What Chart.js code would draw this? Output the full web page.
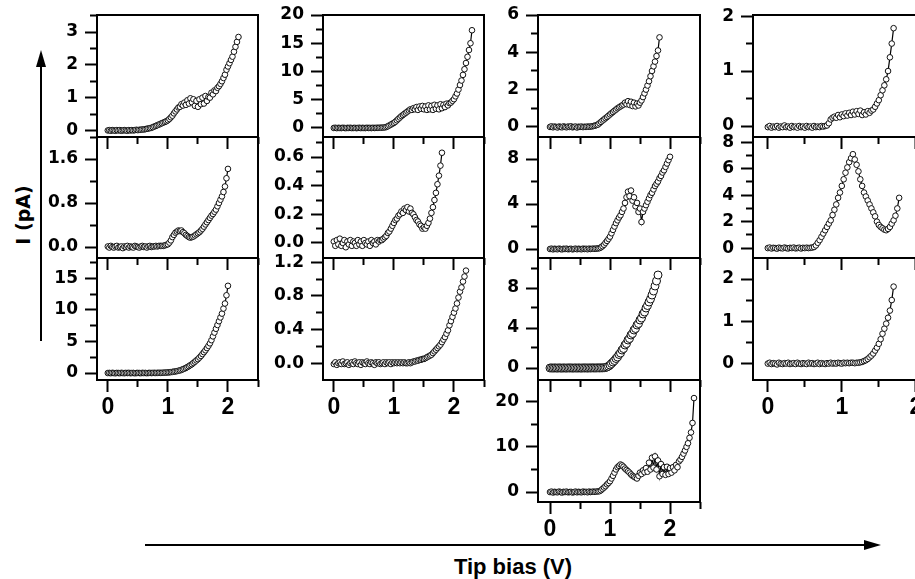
<!DOCTYPE html>
<html>
<head>
<meta charset="utf-8">
<script src="https://cdn.jsdelivr.net/npm/chart.js@4.4.1/dist/chart.umd.min.js"></script>
<style>
  html, body { margin: 0; padding: 0; background: #fff; }
  #fig { position: relative; width: 915px; height: 579px; overflow: hidden; background: #fff; }
  #fig canvas { position: absolute; }
  svg { position: absolute; left: 0; top: 0; }
  .lbl { position: absolute; color: #000; white-space: nowrap; }
  #ylab { font: bold 19px "DejaVu Sans"; left: 23px; top: 215px; transform: translate(-50%, -50%) rotate(-90deg); }
  #xlab { font: bold 22px "Liberation Sans"; left: 513px; top: 567px; transform: translate(-50%, -50%); }
</style>
</head>
<body>
<div id="fig">
  <svg width="915" height="579">
    <line x1="41" y1="66" x2="41" y2="341" stroke="#000" stroke-width="2"/>
    <polygon points="41,50 36,67 46,67" fill="#000"/>
    <line x1="145" y1="545" x2="866" y2="545" stroke="#000" stroke-width="2"/>
    <polygon points="881,545 864,540 864,550" fill="#000"/>
  </svg>
  <div class="lbl" id="ylab">I (pA)</div>
  <div class="lbl" id="xlab">Tip bias (V)</div>
</div>
<script>
// tip bias steps (V), shared by every sweep
const BIAS = [0, 0.025, 0.05, 0.075, 0.1, 0.125, 0.15, 0.175, 0.2, 0.225, 0.25, 0.275, 0.3, 0.325, 0.35, 0.375, 0.4, 0.425, 0.45, 0.475,
  0.5, 0.525, 0.55, 0.575, 0.6, 0.625, 0.65, 0.675, 0.7, 0.725, 0.75, 0.775, 0.8, 0.825, 0.85, 0.875, 0.9, 0.925, 0.95, 0.975,
  1, 1.025, 1.05, 1.075, 1.1, 1.125, 1.15, 1.175, 1.2, 1.225, 1.25, 1.275, 1.3, 1.325, 1.35, 1.375, 1.4, 1.425, 1.45, 1.475,
  1.5, 1.525, 1.55, 1.575, 1.6, 1.625, 1.65, 1.675, 1.7, 1.725, 1.75, 1.775, 1.8, 1.825, 1.85, 1.875, 1.9, 1.925, 1.95, 1.975,
  2, 2.025, 2.05, 2.075, 2.1, 2.125, 2.15, 2.175, 2.2, 2.225, 2.25, 2.275, 2.3, 2.325, 2.35, 2.375, 2.4, 2.425, 2.45, 2.475, 2.5];

// currents (pA), one array per panel
const I_A = [0, 0.01, -0.01, 0.01, 0, -0.01, 0.01, 0, 0.01, -0.01, 0, 0.01, 0, -0.01, 0.01, 0, 0.01, 0, 0.01, 0.02, 0.01,
  0.02, 0.02, 0.03, 0.03, 0.04, 0.05, 0.06, 0.07, 0.08, 0.10, 0.12,
  0.14, 0.16, 0.18, 0.2, 0.22, 0.24, 0.26, 0.28,
  0.31, 0.35, 0.4, 0.45, 0.52, 0.58, 0.64, 0.7,
  0.72, 0.8, 0.76, 0.85, 0.78, 0.92, 0.82, 0.98,
  0.86, 0.95, 0.75, 0.9, 0.72, 0.95, 0.8, 1.0,
  0.82, 1.05, 0.9, 1.02, 1.0, 1.15, 1.1, 1.22,
  1.2, 1.3, 1.35, 1.42, 1.5, 1.6, 1.7, 1.85,
  1.95, 2.05, 2.15, 2.25, 2.4, 2.55, 2.7, 2.85];
const I_B = [0.01, -0.01, 0.02, 0, -0.01, 0.01, 0.02, -0.01, 0, 0.01, -0.02, 0.01, 0, 0.02, -0.01, 0.01, 0, -0.01, 0.02, 0.01,
  0, -0.01, 0.01, 0.02, 0, 0.01, -0.01, 0.01, 0.02, 0, 0.01, 0.01, 0.02, 0.01, 0.02, 0.02,
  0.02, 0.02, 0.03, 0.04,
  0.05, 0.08, 0.12, 0.18, 0.22, 0.26, 0.28, 0.3,
  0.29, 0.3, 0.27, 0.25, 0.22, 0.2, 0.18, 0.17,
  0.18, 0.19, 0.21, 0.23, 0.25, 0.27, 0.3, 0.33,
  0.37, 0.41, 0.45, 0.49, 0.53, 0.57, 0.6, 0.64,
  0.68, 0.74, 0.8, 0.86, 0.92, 1.0, 1.1, 1.25,
  1.42];
const I_C = [0, 0.02, -0.02, 0.03, 0, -0.03, 0.02, 0, -0.02, 0.03, 0, -0.02, 0.02, 0, 0.03, -0.02, 0, 0.02, -0.03, 0,
  0.02, 0, -0.02, 0.03, 0, 0.02, -0.02, 0.01, 0.03, 0, 0.02, 0.03, 0.01, 0.03, 0.04, 0.03, 0.04,
  0.05, 0.07, 0.08,
  0.1, 0.12, 0.15, 0.18, 0.22, 0.26, 0.3, 0.36,
  0.42, 0.5, 0.6, 0.7, 0.82, 0.95, 1.1, 1.25,
  1.4, 1.6, 1.8, 2.0, 2.2, 2.45, 2.7, 3.0,
  3.3, 3.6, 3.95, 4.3, 4.7, 5.2, 5.8, 6.4,
  7.0, 7.6, 8.2, 8.8, 9.4, 10.2, 11.0, 12.3,
  13.8];
const I_D = [0, 0.03, -0.03, 0.02, 0, -0.02, 0.03, 0, -0.03, 0.02, 0, 0.03, -0.02, 0, 0.02, -0.03, 0, 0.03, -0.02, 0.02,
  0, -0.02, 0.03, 0, 0.02, -0.02, 0.03, 0, 0.02, 0.03, 0.03, 0.04, 0.05, 0.07,
  0.1, 0.18, 0.3, 0.45, 0.6, 0.75,
  0.9, 1.1, 1.35, 1.6, 1.85, 2.1, 2.3, 2.5,
  2.7, 2.9, 3.1, 3.3, 3.2, 3.5, 3.3, 3.7,
  3.2, 3.8, 3.4, 3.9, 3.3, 3.8, 3.2, 4.0,
  3.3, 3.9, 3.2, 4.1, 3.4, 4.0, 3.3, 4.2,
  3.5, 4.1, 3.7, 4.3, 4.0, 4.4, 4.5, 4.8,
  5.1, 5.6, 6.1, 6.8, 7.6, 8.4, 9.4, 10.4,
  11.5, 12.6, 13.8, 15.0, 17.3];
const I_E = [0.01, -0.02, 0.02, -0.01, 0.03, -0.02, 0.0, 0.02, -0.03, 0.01, -0.01, 0.02, -0.02, 0.01, 0.0, -0.02, 0.02, -0.01, 0.01, -0.02,
  0.02, 0.0, -0.01, 0.01, -0.02, 0.02, 0.0, 0.01, -0.01, 0.02, 0.01, 0.02, 0.02,
  0.03, 0.04, 0.05, 0.07, 0.08, 0.1, 0.12,
  0.14, 0.16, 0.17, 0.19, 0.2, 0.22, 0.21, 0.24,
  0.23, 0.25, 0.22, 0.24, 0.21, 0.2, 0.18, 0.16,
  0.15, 0.13, 0.12, 0.1, 0.11, 0.1, 0.12, 0.14,
  0.17, 0.21, 0.25, 0.3, 0.35, 0.41, 0.47, 0.54,
  0.63];
const I_F = [-0.01, 0.01, -0.02, 0, 0.01, -0.01, 0.02, -0.01, 0, 0.01, -0.02, 0, 0.01, -0.01, 0.02, 0, -0.01, 0.01, -0.02, 0.01,
  0, -0.01, 0.02, 0, -0.01, 0.01, 0, -0.02, 0.01, 0, 0.01, -0.01, 0, 0.01, -0.01, 0.01, 0, 0.01, -0.01, 0.01,
  0, 0.01, 0, 0.01, 0, 0.01, 0, 0.01, 0,
  0.0, 0.01, 0.0,
  0.01, 0.02, 0.02, 0.03, 0.03, 0.04, 0.04, 0.05,
  0.05, 0.06, 0.07, 0.08, 0.09, 0.1, 0.12, 0.14,
  0.16, 0.18, 0.2, 0.22, 0.25, 0.28, 0.31, 0.35,
  0.39, 0.45, 0.5, 0.55, 0.6, 0.65, 0.71, 0.78,
  0.85, 0.9, 0.97, 1.03, 1.1];
const I_G = [0, 0.03, -0.02, 0.02, 0, -0.03, 0.02, 0, -0.02, 0.03, 0, -0.02, 0.02, 0, 0.03, -0.02, 0, 0.02, -0.03, 0.01,
  0, 0.02, -0.01, 0.01, 0, 0.02, 0.01, 0.02,
  0.03, 0.05, 0.07, 0.1, 0.13, 0.2, 0.27, 0.34,
  0.4, 0.47, 0.53, 0.6, 0.67, 0.74, 0.8, 0.87,
  0.93, 1.0, 1.05, 1.1, 1.15, 1.2, 1.3, 1.22,
  1.38, 1.18, 1.35, 1.12, 1.3, 1.1, 1.25, 1.15,
  1.3, 1.42, 1.6, 1.8, 2.0, 2.22, 2.45, 2.72,
  3.0, 3.25, 3.5, 3.8, 4.1, 4.8];
const I_H = [0, 0.03, -0.03, 0.02, 0, -0.02, 0.03, 0, -0.03, 0.02, 0, 0.03, -0.02, 0, 0.02, -0.03, 0, 0.03, -0.02, 0.02,
  0, -0.02, 0.03, 0, 0.02, -0.02, 0.03, 0, 0.02, 0.03, 0.02, 0.04, 0.05,
  0.08, 0.15, 0.25,
  0.38, 0.55, 0.72, 0.9, 1.1, 1.4, 1.7, 2.0,
  2.3, 2.55, 2.8, 3.0, 3.3, 3.6, 4.1, 4.6,
  5.1, 4.7, 5.2, 4.3, 4.6, 3.8, 4.1, 3.3,
  3.6, 2.4, 3.3, 3.6, 3.9, 4.2, 4.5, 4.8,
  5.0, 5.3, 5.6, 5.8, 6.0, 6.3, 6.5, 6.8,
  7.0, 7.3, 7.6, 7.9, 8.2];
const I_I = [0, 0.01, -0.01, 0.01, 0, -0.01, 0.01, 0, -0.01, 0.01, 0, -0.01, 0.01, 0, 0.01, -0.01, 0, 0.01, -0.01, 0.01,
  0, -0.01, 0.01, 0, 0.01, -0.01, 0.01, 0, 0.01, 0.01, 0, 0.01, 0.01, 0.01, 0.01, 0.02,
  0.02, 0.05, 0.1, 0.18, 0.3, 0.45, 0.6, 0.75,
  0.95, 1.1, 1.35, 1.5, 1.8, 1.95, 2.3, 2.45,
  2.8, 2.95, 3.3, 3.45, 3.8, 3.95, 4.3, 4.45,
  4.8, 5.0, 5.4, 5.6, 6.0, 6.25, 6.6, 6.9,
  7.3, 7.7, 8.2, 8.7, 9.3];
const I_J = [0, 0.1, -0.1, 0.05, 0, -0.05, 0.1, 0, -0.1, 0.05, 0, 0.1, -0.05, 0, 0.05, -0.1, 0, 0.1, -0.05, 0.05,
  0, -0.05, 0.1, 0, 0.05, -0.05, 0.1, 0, 0.05, 0.1, 0.05, 0.1, 0.15,
  0.2, 0.4, 0.7,
  1.0, 1.3, 1.7, 2.0, 2.4, 3.0, 3.6, 4.3,
  5.0, 5.5, 5.8, 6.1, 5.9, 5.6, 5.2, 4.9,
  4.6, 4.3, 3.9, 3.6, 3.4, 3.2, 3.0, 3.6,
  4.3, 4.0, 4.8, 4.4, 5.3, 4.5, 6.5, 5.0,
  7.6, 5.4, 7.9, 5.0, 7.0, 3.5, 6.2, 4.0,
  5.5, 3.8, 5.6, 4.0, 5.3, 4.3, 5.5, 4.8,
  6.0, 5.5, 6.8, 7.2, 7.8, 8.5, 9.2, 10.0,
  10.8, 12.0, 13.2, 15.3, 20.8];
const I_K = [-0.02, 0, -0.03, -0.01, -0.02, 0, -0.03, -0.01, -0.02, 0.01, -0.02, -0.01, -0.03, 0, -0.02, -0.01, -0.03, 0, -0.02, -0.01,
  -0.03, 0, -0.02, -0.01, -0.03, 0, -0.02, -0.01, -0.02, 0, -0.01, 0, 0.01,
  0.05, 0.12, 0.15,
  0.17, 0.15, 0.2, 0.16, 0.21, 0.18, 0.23, 0.19,
  0.24, 0.2, 0.26, 0.21, 0.27, 0.22, 0.28, 0.2,
  0.25, 0.21, 0.27, 0.24, 0.28, 0.3, 0.35, 0.41,
  0.47, 0.56, 0.65, 0.74, 0.85, 1.0, 1.25, 1.5,
  1.78];
const I_L = [0, 0.04, -0.03, 0.02, 0, -0.04, 0.03, 0, -0.02, 0.04, 0, -0.03, 0.02, 0, 0.04, -0.02, 0, 0.03, -0.03, 0.02,
  0, 0.03, 0, 0.02, 0.04,
  0.08, 0.2, 0.4,
  0.6, 0.85, 1.1, 1.35, 1.6, 1.85, 2.1, 2.5,
  2.9, 3.3, 3.8, 4.2, 4.7, 5.2, 5.7, 6.1,
  6.5, 6.8, 7.1, 6.7, 6.3, 5.8, 5.2, 4.7,
  4.2, 3.9, 3.6, 3.3, 3.0, 2.7, 2.4, 2.0,
  1.75, 1.6, 1.5, 1.4, 1.35, 1.45, 1.6, 1.85,
  2.1, 2.45, 3.0, 3.8];
const I_M = [-0.01, 0.01, -0.02, 0, -0.01, -0.03, 0.01, -0.01, -0.02, 0, -0.01, 0.01, -0.02, -0.01, 0, -0.02, 0.01, -0.01, -0.02, 0,
  -0.01, -0.02, 0.01, -0.01, 0, -0.02, -0.01, 0.01, -0.02, 0, -0.01, -0.02, 0, -0.01, 0.01, -0.01, 0, -0.01, 0.01, 0,
  -0.01, 0.01, 0, 0.01, 0, 0.01, 0.01, 0, 0.01,
  0.01, 0.02, 0.03,
  0.05, 0.07, 0.1, 0.14, 0.18, 0.23, 0.3, 0.37,
  0.46, 0.57, 0.7, 0.82, 0.94, 1.08, 1.25, 1.5,
  1.82];

// tick labels
const X_MAJOR = ['0', '1', '2'];
const X_MINOR = [0.5, 1.5, 2.5];
const Y_MAJOR_A = ['0', '1', '2', '3'];           const Y_MINOR_A = [0.5, 1.5, 2.5, 3.5];
const Y_MAJOR_B = ['0.0', '0.8', '1.6'];          const Y_MINOR_B = [0.4, 1.2, 2.0];
const Y_MAJOR_C = ['0', '5', '10', '15'];         const Y_MINOR_C = [2.5, 7.5, 12.5, 17.5];
const Y_MAJOR_D = ['0', '5', '10', '15', '20'];   const Y_MINOR_D = [2.5, 7.5, 12.5, 17.5];
const Y_MAJOR_E = ['0.0', '0.2', '0.4', '0.6'];   const Y_MINOR_E = [0.1, 0.3, 0.5, 0.7];
const Y_MAJOR_F = ['0.0', '0.4', '0.8', '1.2'];   const Y_MINOR_F = [0.2, 0.6, 1.0];
const Y_MAJOR_G = ['0', '2', '4', '6'];           const Y_MINOR_G = [1, 3, 5];
const Y_MAJOR_H = ['0', '4', '8'];                const Y_MINOR_H = [2, 6];
const Y_MAJOR_I = ['0', '4', '8'];                const Y_MINOR_I = [2, 6, 10];
const Y_MAJOR_J = ['0', '10', '20'];              const Y_MINOR_J = [5, 15];
const Y_MAJOR_K = ['0', '1', '2'];                const Y_MINOR_K = [0.5, 1.5];
const Y_MAJOR_L = ['0', '2', '4', '6', '8'];      const Y_MINOR_L = [1, 3, 5, 7];
const Y_MAJOR_M = ['0', '1', '2'];                const Y_MINOR_M = [0.5, 1.5];

// panel layout (pixels and axis ranges)
const PANELS = [
  { cur: I_A, yMaj: Y_MAJOR_A, yMin: Y_MINOR_A, left: 97,  top: 15,  w: 161, h: 122, x: [-0.18, 2.5], y: [-0.2, 3.52], lab: false, z: 9 },
  { cur: I_B, yMaj: Y_MAJOR_B, yMin: Y_MINOR_B, left: 97,  top: 137, w: 161, h: 121, x: [-0.18, 2.5], y: [-0.2, 2.0],  lab: false, z: 8 },
  { cur: I_C, yMaj: Y_MAJOR_C, yMin: Y_MINOR_C, left: 97,  top: 258, w: 161, h: 122, x: [-0.18, 2.5], y: [-1.1, 18.2], lab: true,  z: 7 },
  { cur: I_D, yMaj: Y_MAJOR_D, yMin: Y_MINOR_D, left: 323, top: 15,  w: 161, h: 122, x: [-0.18, 2.5], y: [-1.6, 20],   lab: false, z: 9 },
  { cur: I_E, yMaj: Y_MAJOR_E, yMin: Y_MINOR_E, left: 323, top: 137, w: 161, h: 121, x: [-0.18, 2.5], y: [-0.105, 0.74], lab: false, z: 8 },
  { cur: I_F, yMaj: Y_MAJOR_F, yMin: Y_MINOR_F, left: 323, top: 258, w: 161, h: 122, x: [-0.18, 2.5], y: [-0.2, 1.25], lab: true,  z: 7 },
  { cur: I_G, yMaj: Y_MAJOR_G, yMin: Y_MINOR_G, left: 538, top: 15,  w: 162, h: 122, x: [-0.2, 2.5],  y: [-0.54, 6],   lab: false, z: 9 },
  { cur: I_H, yMaj: Y_MAJOR_H, yMin: Y_MINOR_H, left: 538, top: 137, w: 162, h: 121, x: [-0.2, 2.5],  y: [-0.8, 9.96], lab: false, z: 8 },
  { cur: I_I, yMaj: Y_MAJOR_I, yMin: Y_MINOR_I, left: 538, top: 258, w: 162, h: 122, x: [-0.2, 2.5],  y: [-1.2, 11],   lab: false, z: 7, r: 4 },
  { cur: I_J, yMaj: Y_MAJOR_J, yMin: Y_MINOR_J, left: 538, top: 380, w: 162, h: 122, x: [-0.2, 2.5],  y: [-2.2, 24.8], lab: true,  z: 6 },
  { cur: I_K, yMaj: Y_MAJOR_K, yMin: Y_MINOR_K, left: 753, top: 15,  w: 185, h: 122, x: [-0.2, 2.3],  y: [-0.2, 2.02], lab: false, z: 9 },
  { cur: I_L, yMaj: Y_MAJOR_L, yMin: Y_MINOR_L, left: 753, top: 137, w: 185, h: 121, x: [-0.2, 2.3],  y: [-0.75, 8.4], lab: false, z: 8 },
  { cur: I_M, yMaj: Y_MAJOR_M, yMin: Y_MINOR_M, left: 753, top: 258, w: 185, h: 122, x: [-0.2, 2.3],  y: [-0.4, 2.5],  lab: true,  z: 7 }
];

const frame = {
  id: 'frame',
  afterDraw(chart) {
    const { ctx, chartArea: a } = chart;
    ctx.save();
    ctx.strokeStyle = '#000';
    ctx.lineWidth = 2;
    ctx.strokeRect(a.left, a.top, a.right - a.left, a.bottom - a.top);
    ctx.restore();
  }
};

function setTicks(list, lo, hi) {
  return (s) => {
    s.ticks = list.map(t => ({ value: parseFloat(t), txt: String(t) }))
      .filter(t => t.value >= lo - 1e-9 && t.value <= hi + 1e-9);
  };
}
function noPad(size, horizontal) {
  return (s) => {
    if (horizontal) s.height = size; else s.width = size;
    s.paddingTop = s.paddingBottom = s.paddingLeft = s.paddingRight = 0;
  };
}
function tickGrid(len) {
  return { drawOnChartArea: false, drawTicks: true, tickLength: len, tickWidth: 2, tickColor: '#000' };
}

const fig = document.getElementById('fig');
const padL = 50, padT = 10, padR = 10;

PANELS.forEach(p => {
  const padB = p.lab ? 50 : 16;
  const W = p.w + padL + padR, H = p.h + padT + padB;
  const cv = document.createElement('canvas');
  cv.width = W; cv.height = H;
  cv.style.width = W + 'px'; cv.style.height = H + 'px';
  cv.style.left = (p.left - padL) + 'px';
  cv.style.top = (p.top - padT) + 'px';
  cv.style.zIndex = p.z;
  fig.appendChild(cv);

  const pts = p.cur.map((v, i) => ({ x: BIAS[i], y: v }));
  const rad = p.r || 2.8;

  new Chart(cv, {
    type: 'scatter',
    data: {
      datasets: [{
        data: pts,
        showLine: true,
        borderColor: '#000',
        borderWidth: 1.2,
        pointRadius: rad,
        pointHoverRadius: rad,
        pointBorderWidth: 1,
        pointBorderColor: '#111',
        pointBackgroundColor: '#fff'
      }]
    },
    options: {
      responsive: false,
      animation: false,
      devicePixelRatio: 1,
      events: [],
      layout: { padding: { left: 0, top: padT, right: padR, bottom: 0 } },
      plugins: { legend: { display: false }, tooltip: { enabled: false } },
      scales: {
        x: {
          type: 'linear', position: 'bottom', weight: 1, min: p.x[0], max: p.x[1],
          afterBuildTicks: setTicks(X_MAJOR, p.x[0], p.x[1]),
          afterFit: noPad(padB, true),
          ticks: {
            display: p.lab, autoSkip: false, maxRotation: 0, padding: 2, color: '#000',
            font: { family: 'Liberation Sans', size: 23, weight: 'bold' },
            callback: (v, i, t) => t[i].txt
          },
          grid: tickGrid(12),
          border: { display: false }
        },
        xm: {
          type: 'linear', position: 'bottom', weight: 0, min: p.x[0], max: p.x[1],
          afterBuildTicks: setTicks(X_MINOR, p.x[0], p.x[1]),
          afterFit: noPad(0, true),
          ticks: { display: false },
          grid: tickGrid(7),
          border: { display: false }
        },
        y: {
          type: 'linear', position: 'left', weight: 1, min: p.y[0], max: p.y[1],
          afterBuildTicks: setTicks(p.yMaj, p.y[0], p.y[1]),
          afterFit: noPad(padL, false),
          ticks: {
            autoSkip: false, padding: 7, color: '#000',
            font: { family: 'DejaVu Sans', size: 17, weight: 'bold' },
            callback: (v, i, t) => t[i].txt
          },
          grid: tickGrid(12),
          border: { display: false }
        },
        ym: {
          type: 'linear', position: 'left', weight: 0, min: p.y[0], max: p.y[1],
          afterBuildTicks: setTicks(p.yMin, p.y[0], p.y[1]),
          afterFit: noPad(0, false),
          ticks: { display: false },
          grid: tickGrid(7),
          border: { display: false }
        }
      }
    },
    plugins: [frame]
  });
});
</script>
</body>
</html>
